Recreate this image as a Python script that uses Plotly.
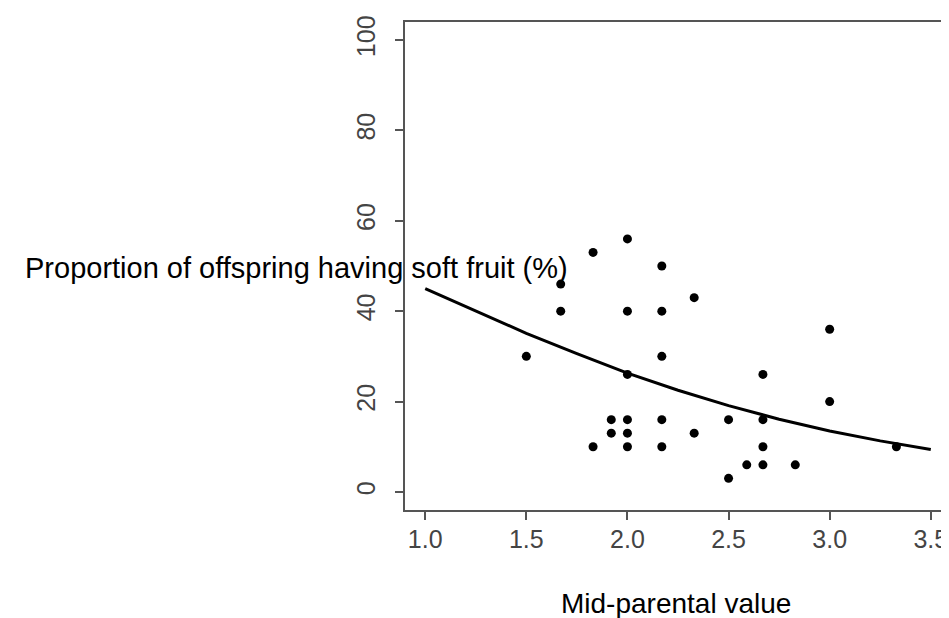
import plotly.graph_objects as go

# Observed points (mid-parental value, % offspring with soft fruit)
mid_parental = [1.5, 1.67, 1.67, 1.83, 1.83, 1.92, 1.92, 2.0, 2.0, 2.0, 2.0, 2.0, 2.0,
                2.17, 2.17, 2.17, 2.17, 2.17, 2.33, 2.33, 2.5, 2.5, 2.59,
                2.67, 2.67, 2.67, 2.67, 2.83, 3.0, 3.0, 3.33]
soft_pct = [30, 46, 40, 53, 10, 16, 13, 56, 40, 26, 16, 13, 10,
            50, 40, 30, 16, 10, 43, 13, 16, 3, 6,
            26, 16, 10, 6, 6, 36, 20, 10]

# Fitted curve
fit_x = [1.0, 1.25, 1.5, 1.75, 2.0, 2.25, 2.5, 2.75, 3.0, 3.25, 3.5]
fit_y = [45.0, 40.0, 35.1, 30.6, 26.3, 22.5, 19.1, 16.1, 13.5, 11.3, 9.4]

x_ticks = [1.0, 1.5, 2.0, 2.5, 3.0, 3.5]
x_tick_labels = ["1.0", "1.5", "2.0", "2.5", "3.0", "3.5"]
y_ticks = [0, 20, 40, 60, 80, 100]
y_tick_labels = ["0", "20", "40", "60", "80", "100"]

fig = go.Figure()
fig.add_trace(go.Scatter(x=fit_x, y=fit_y, mode="lines",
                         line=dict(color="black", width=3), showlegend=False))
fig.add_trace(go.Scatter(x=mid_parental, y=soft_pct, mode="markers",
                         marker=dict(color="black", size=9), showlegend=False))

W, H = 949, 618
L, R, T, B = 397, 4, 14, 116
pw, ph = W - L - R, H - T - B

def px(xp):
    return (xp - L) / pw

def py(yp):
    return (H - B - yp) / ph

tick_font = dict(family="Liberation Sans, Arial, sans-serif", size=25, color="#444")
axis_common = dict(showline=True, linecolor="#555", linewidth=1.5, mirror=True,
                   ticks="outside", ticklen=8, tickwidth=1.5, tickcolor="#555",
                   showgrid=False, zeroline=False, tickfont=tick_font)

fig.update_layout(
    width=W, height=H,
    margin=dict(l=L, r=R, t=T, b=B),
    paper_bgcolor="white", plot_bgcolor="white",
    xaxis=dict(range=[0.9, 3.6], tickvals=x_ticks, ticktext=x_tick_labels,
               ticklabelstandoff=-2, **axis_common),
    yaxis=dict(range=[-4, 104], tickvals=y_ticks, ticktext=y_tick_labels,
               tickangle=-90, ticklabelstandoff=10, **axis_common),
    annotations=[
        dict(text="Proportion of offspring having soft fruit (%)", xref="paper", yref="paper",
             x=px(14), y=py(260), xanchor="left", yanchor="middle", showarrow=False,
             font=dict(family="Liberation Sans, Arial, sans-serif", size=29, color="black")),
        dict(text="Mid-parental value", xref="paper", yref="paper",
             x=px(669), y=py(595), xanchor="center", yanchor="middle", showarrow=False,
             font=dict(family="Liberation Sans, Arial, sans-serif", size=28, color="black")),
    ],
)

fig.write_html("out.html")
